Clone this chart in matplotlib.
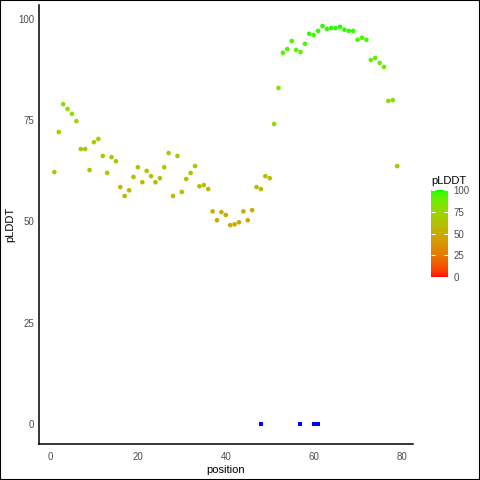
import numpy as np
import matplotlib
matplotlib.use("Agg")
import matplotlib.pyplot as plt
from matplotlib.colors import ListedColormap, Normalize
from matplotlib.cm import ScalarMappable
from matplotlib.patches import Rectangle

plt.rcParams['font.family'] = ['Liberation Sans', 'DejaVu Sans']

# per-residue confidence
position = list(range(1, 80))
plddt = [62.2, 72.1, 79.0, 77.8, 76.6, 74.8, 67.9, 67.9, 62.7, 69.6,
         70.4, 66.2, 62.0, 65.9, 64.9, 58.5, 56.3, 57.7, 61.0, 63.4,
         59.7, 62.5, 61.2, 59.7, 60.7, 63.4, 66.9, 56.3, 66.2, 57.3,
         60.5, 62.0, 63.7, 58.7, 59.0, 58.0, 52.5, 50.3, 52.3, 51.6,
         49.1, 49.3, 49.8, 52.5, 50.3, 52.8, 58.5, 58.0, 61.2, 60.7,
         74.1, 83.0, 91.7, 92.6, 94.6, 92.4, 91.9, 93.9, 96.4, 96.1,
         97.1, 98.3, 97.6, 97.8, 97.8, 98.1, 97.4, 97.1, 97.1, 94.9,
         95.4, 94.9, 89.9, 90.4, 89.2, 88.2, 79.8, 80.0, 63.7]

# flagged sites drawn on the zero line
site_pos = [48, 57, 60, 61]
site_val = [0, 0, 0, 0]


# red -> green gradient interpolated in Lab space (like ggplot's default)
def srgb_to_lab(rgb):
    rgb = np.asarray(rgb, float)
    lin = np.where(rgb <= 0.04045, rgb / 12.92, ((rgb + 0.055) / 1.055) ** 2.4)
    m = np.array([[0.4124, 0.3576, 0.1805],
                  [0.2126, 0.7152, 0.0722],
                  [0.0193, 0.1192, 0.9505]])
    xyz = m @ lin / np.array([0.95047, 1.0, 1.08883])
    f = np.where(xyz > 0.008856, np.cbrt(xyz), 7.787 * xyz + 16 / 116)
    return np.array([116 * f[1] - 16, 500 * (f[0] - f[1]), 200 * (f[1] - f[2])])


def lab_to_srgb(lab):
    L, a, b = lab
    fy = (L + 16) / 116
    fx = fy + a / 500
    fz = fy - b / 200
    f = np.array([fx, fy, fz])
    xyz = np.where(f ** 3 > 0.008856, f ** 3, (f - 16 / 116) / 7.787)
    xyz = xyz * np.array([0.95047, 1.0, 1.08883])
    minv = np.array([[3.2406, -1.5372, -0.4986],
                     [-0.9689, 1.8758, 0.0415],
                     [0.0557, -0.2040, 1.0570]])
    lin = minv @ xyz
    rgb = np.where(lin <= 0.0031308, 12.92 * lin, 1.055 * np.clip(lin, 0, None) ** (1 / 2.4) - 0.055)
    return np.clip(rgb, 0, 1)


lo = srgb_to_lab([1, 0, 0])
hi = srgb_to_lab([0, 1, 0])
cmap = ListedColormap([lab_to_srgb(lo + (hi - lo) * t) for t in np.linspace(0, 1, 256)])
norm = Normalize(0, 100)

fig = plt.figure(figsize=(4.8, 4.8), dpi=100)
ax = fig.add_axes([39 / 480, 36 / 480, 374 / 480, 439 / 480])

ax.scatter(position, plddt, c=plddt, cmap=cmap, norm=norm, s=11, linewidths=0)
ax.scatter(site_pos, site_val, color='#0000FF', marker='s', s=9, linewidths=0)

ax.set_xlim(-2.5, 82.6)
ax.set_ylim(-5.0, 103.5)
ax.set_xticks([0, 20, 40, 60, 80])
ax.set_yticks([0, 25, 50, 75, 100])
ax.tick_params(axis='x', length=0, pad=6, labelsize=7, labelcolor='#4D4D4D')
ax.tick_params(axis='y', length=0, pad=3.5, labelsize=7, labelcolor='#4D4D4D')
for s in ['top', 'right']:
    ax.spines[s].set_visible(False)
for s in ['left', 'bottom']:
    ax.spines[s].set_linewidth(1.1)
ax.set_xlabel('position', fontsize=8, labelpad=2)
ax.set_ylabel('pLDDT', fontsize=8, labelpad=2)

# colour bar legend
cax = fig.add_axes([431 / 480, 203 / 480, 17 / 480, 87 / 480])
cb = fig.colorbar(ScalarMappable(norm=norm, cmap=cmap), cax=cax)
cb.outline.set_visible(False)
cb.set_ticks([0, 25, 50, 75, 100])
cax.tick_params(length=3, width=0.8, color='white', direction='in', left=True, right=True,
                labelsize=7, labelcolor='#4D4D4D', pad=4)
fig.text(431 / 480, 1 - 181 / 480, 'pLDDT', fontsize=8, ha='left', va='center')

# border around the whole figure
fig.patches.append(Rectangle((0, 0), 1, 1, transform=fig.transFigure, fill=False,
                             edgecolor='black', linewidth=1.5))

fig.savefig('out.png', dpi=100)
